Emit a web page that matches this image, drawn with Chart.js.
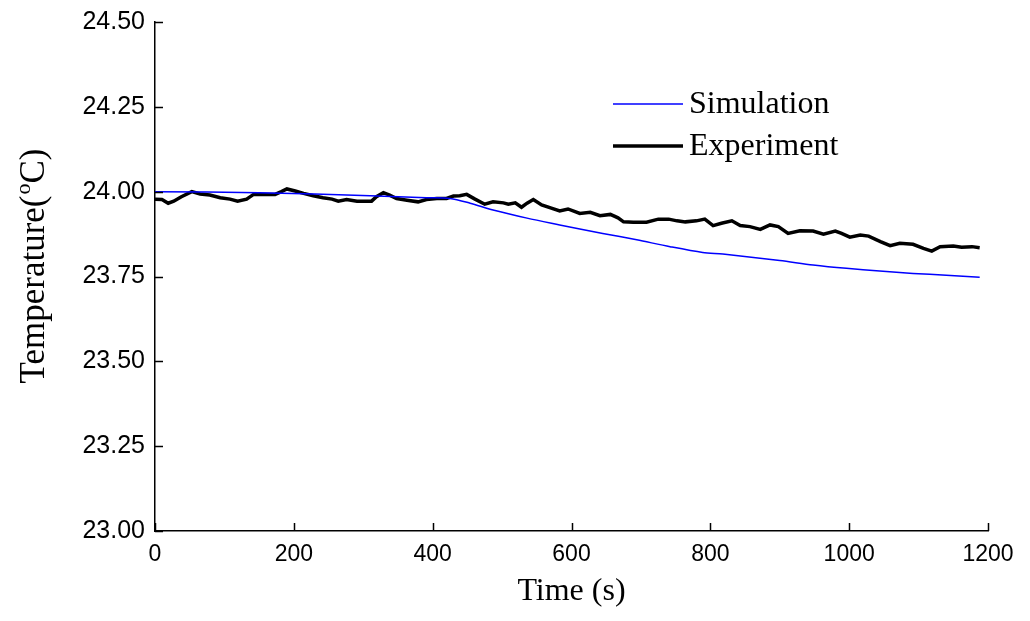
<!DOCTYPE html>
<html>
<head>
<meta charset="utf-8">
<script src="https://cdn.jsdelivr.net/npm/chart.js@4.4.1/dist/chart.umd.min.js"></script>
<style>
  html, body { margin: 0; padding: 0; background: #fff; }
  #wrap { width: 1030px; height: 621px; position: relative; }
</style>
</head>
<body>
<div id="wrap"><canvas id="tempChart"></canvas></div>
<script>
// --- DATA ---
const simTime = [0, 150, 310, 391, 425, 454, 487, 536, 583, 612, 645, 694, 742, 789, 818, 900, 948, 996, 1044, 1092, 1140, 1188];
const simTemp = [24.000, 23.997, 23.988, 23.982, 23.980, 23.966, 23.946, 23.922, 23.902, 23.890, 23.877, 23.858, 23.838, 23.821, 23.816, 23.797, 23.784, 23.774, 23.766, 23.759, 23.754, 23.748];

const expTime = [0, 10, 19, 27, 38, 53, 65, 79, 94, 108, 119, 132, 142, 156, 173, 182, 190, 202, 214, 228, 242, 255, 264, 276, 291, 307,
  312, 319, 329, 338, 348, 363, 379, 391, 406, 420, 430, 439, 449, 461, 475, 487, 502, 509, 519, 528, 536, 545, 557, 572, 583, 595, 612,
  627, 641, 656, 667, 675, 689, 708, 725, 740, 752, 764, 780, 792, 804, 816, 831, 843, 857, 872, 886, 898, 912,
  929, 948, 963, 980, 989, 1001, 1016, 1028, 1045, 1059, 1073, 1092, 1107, 1119, 1131, 1150, 1162, 1177, 1188];
const expTemp = [23.978, 23.977, 23.966, 23.972, 23.985, 24.000, 23.993, 23.990, 23.982, 23.978, 23.972, 23.978, 23.992, 23.992, 23.992, 24.000, 24.008, 24.002, 23.995, 23.988, 23.982, 23.978, 23.972, 23.977, 23.972, 23.972,
  23.972, 23.985, 23.997, 23.990, 23.980, 23.975, 23.970, 23.977, 23.980, 23.980, 23.987, 23.988, 23.992, 23.978, 23.963, 23.970, 23.967, 23.963, 23.967, 23.954, 23.966, 23.977, 23.961, 23.951, 23.943, 23.949, 23.936,
  23.939, 23.929, 23.933, 23.923, 23.911, 23.910, 23.910, 23.919, 23.919, 23.914, 23.911, 23.914, 23.919, 23.900, 23.907, 23.914, 23.900, 23.897, 23.889, 23.902, 23.897, 23.877,
  23.885, 23.884, 23.875, 23.884, 23.877, 23.866, 23.872, 23.869, 23.853, 23.841, 23.848, 23.845, 23.833, 23.825, 23.838, 23.840, 23.836, 23.838, 23.835];

const xTicks = [0, 200, 400, 600, 800, 1000, 1200];
const yTicks = [23.00, 23.25, 23.50, 23.75, 24.00, 24.25, 24.50];

const seriesLabels = ['Simulation', 'Experiment'];
const seriesColors = ['#0000ff', '#000000'];
const seriesWidths = [1.5, 3.5];

const toPoints = (xs, ys) => xs.map((x, i) => ({ x: x, y: ys[i] }));

const SERIF = '"Liberation Serif", "Times New Roman", serif';
const SANS = '"Liberation Sans", Arial, sans-serif';

// --- PLUGIN: inward ticks, y title with superscript, inline legend ---
const decorPlugin = {
  id: 'decor',
  afterDraw(chart) {
    const ctx = chart.ctx;
    const area = chart.chartArea;
    const xs = chart.scales.x, ys = chart.scales.y;
    ctx.save();
    ctx.strokeStyle = '#000';
    ctx.lineWidth = 1.5;
    ctx.beginPath();
    xTicks.forEach(t => {
      const px = Math.round(xs.getPixelForValue(t)) + 0.5;
      ctx.moveTo(px, area.bottom);
      ctx.lineTo(px, area.bottom - 8);
    });
    yTicks.forEach(t => {
      const py = Math.round(ys.getPixelForValue(t)) + 0.5;
      ctx.moveTo(area.left, py);
      ctx.lineTo(area.left + 8, py);
    });
    ctx.stroke();

    // y title
    ctx.fillStyle = '#000';
    ctx.textBaseline = 'middle';
    const cy = (area.top + area.bottom) / 2 - 10;
    ctx.translate(35, cy);
    ctx.rotate(-Math.PI / 2);
    const big = '35px ' + SERIF;
    const small = '22px ' + SERIF;
    ctx.font = big;
    const w1 = ctx.measureText('Temperature(').width;
    ctx.font = small;
    const w2 = ctx.measureText('o').width;
    ctx.font = big;
    const w3 = ctx.measureText('C)').width;
    let x0 = -(w1 + w2 + w3) / 2;
    ctx.textAlign = 'left';
    ctx.fillText('Temperature(', x0, 0);
    ctx.font = small;
    ctx.fillText('o', x0 + w1 + 1, -11);
    ctx.font = big;
    ctx.fillText('C)', x0 + w1 + w2 + 1, 0);
    ctx.restore();

    // legend
    ctx.save();
    const lx0 = xs.getPixelForValue(0) + 458, lx1 = lx0 + 70;
    const rows = [104, 146];
    ctx.font = '32px ' + SERIF;
    ctx.textBaseline = 'middle';
    ctx.textAlign = 'left';
    seriesLabels.forEach((lab, i) => {
      ctx.strokeStyle = seriesColors[i];
      ctx.lineWidth = seriesWidths[i];
      ctx.beginPath();
      ctx.moveTo(lx0, rows[i]);
      ctx.lineTo(lx1, rows[i]);
      ctx.stroke();
      ctx.fillStyle = '#000';
      ctx.fillText(lab, lx1 + 6, rows[i] + 1);
    });
    ctx.restore();
  }
};

new Chart(document.getElementById('tempChart'), {
  type: 'line',
  data: {
    datasets: [
      { label: seriesLabels[0], data: toPoints(simTime, simTemp), borderColor: seriesColors[0], borderWidth: seriesWidths[0], pointRadius: 0, tension: 0.3 },
      { label: seriesLabels[1], data: toPoints(expTime, expTemp), borderColor: seriesColors[1], borderWidth: seriesWidths[1], pointRadius: 0, tension: 0 }
    ]
  },
  options: {
    responsive: true,
    maintainAspectRatio: false,
    animation: false,
    layout: { padding: { top: 22, right: 42, left: 0, bottom: 0 } },
    plugins: { legend: { display: false }, tooltip: { enabled: false } },
    scales: {
      x: {
        type: 'linear', min: 0, max: 1200,
        afterFit: s => { s.height = 90; },
        afterBuildTicks: s => { s.ticks = xTicks.map(v => ({ value: v })); },
        grid: { display: false },
        border: { display: true, color: '#000', width: 1.5 },
        ticks: { color: '#000', padding: 2, maxRotation: 0, callback: v => String(v), font: { family: SANS, size: 23 } },
        title: {
          display: true, text: 'Time (s)', color: '#000', padding: { top: 10, bottom: 10 },
          font: { family: SERIF, size: 32 }
        }
      },
      y: {
        min: 23, max: 24.5,
        afterFit: s => { s.width = 155; },
        afterBuildTicks: s => { s.ticks = yTicks.map(v => ({ value: v })); },
        grid: { display: false },
        border: { display: true, color: '#000', width: 1.5 },
        ticks: { color: '#000', padding: 2, callback: v => v.toFixed(2), font: { family: SANS, size: 25 } }
      }
    }
  },
  plugins: [decorPlugin]
});
</script>
</body>
</html>
